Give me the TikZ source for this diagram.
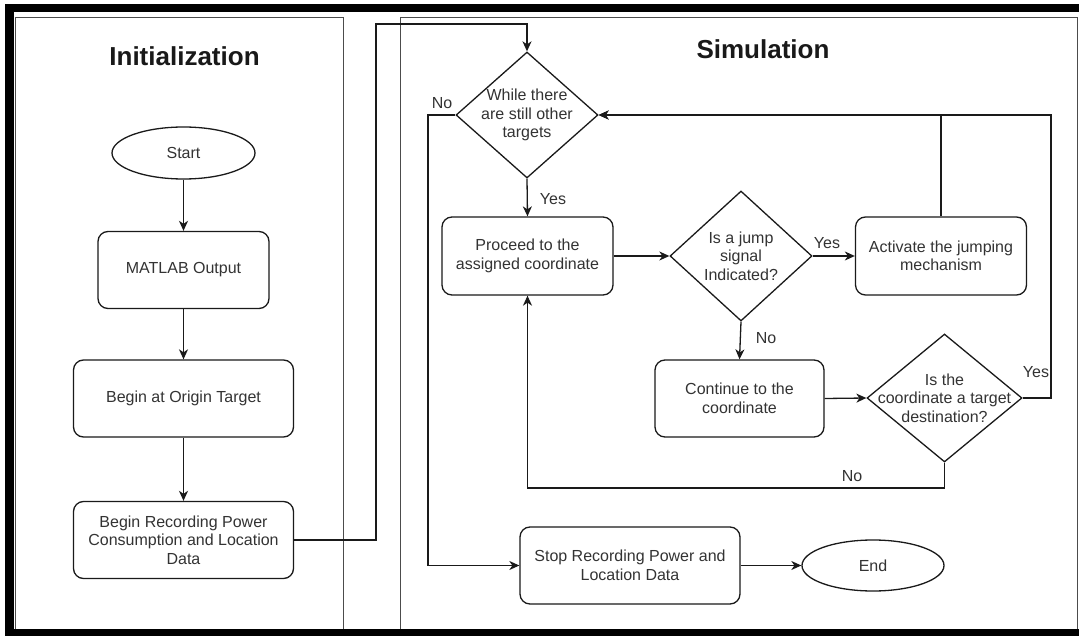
\documentclass[tikz,border=0pt]{standalone}
\usepackage{fontspec}
\setmainfont{Liberation Sans}
\usetikzlibrary{shapes.geometric,arrows.meta}
\definecolor{txt}{HTML}{333333}
\definecolor{ln}{HTML}{1A1A1A}
\begin{document}
\begin{tikzpicture}[x=1pt,y=-1pt,
  every node/.style={font=\fontsize{16}{18.5}\selectfont, text=txt},
  proc/.style={draw=ln, line width=1.3pt, rounded corners=10pt, align=center, inner sep=0pt},
  term/.style={draw=ln, line width=1.3pt, ellipse, inner sep=0pt},
  dec/.style={draw=ln, line width=1.3pt, diamond, inner sep=0pt},
  flow/.style={draw=ln, line width=1.3pt, -{Stealth[length=10pt,width=9pt,inset=3pt]}},
  lane/.style={draw=black!70, line width=0.9pt},
  lbl/.style={font=\fontsize{16}{18.5}\selectfont, text=txt, inner sep=0pt},
  ttl/.style={font=\fontsize{26}{30}\selectfont\bfseries, text=black!90}
]
\useasboundingbox (0,0) rectangle (1079,636);
\fill[white] (0,0) rectangle (1079,636);
% lanes
\draw[lane] (15,17.5) rectangle (343,629);
\draw[lane] (400,17.5) rectangle (1077.5,629);
\node[ttl] (tinit) at (184.5,56) {Initialization};
\node[ttl] (tsim) at (763,49.5) {Simulation};
% initialization column
\node[term, minimum width=143pt, minimum height=52pt] (start) at (183.5,153) {Start};
\node[proc, minimum width=171pt, minimum height=77pt] (matlab) at (183.5,270) {MATLAB Output};
\node[proc, minimum width=220pt, minimum height=77pt] (origin) at (183.5,398.5) {Begin at Origin Target};
\node[proc, minimum width=220pt, minimum height=77pt] (rec) at (183.5,540) {Begin Recording Power\\Consumption and Location\\Data};
% simulation
\node[dec, minimum width=142pt, minimum height=126pt,
  label={[lbl,align=center]center:{While there\\are still other\\targets}}] (d1) at (527,115) {};
\node[proc, minimum width=171pt, minimum height=78pt] (proc) at (527.5,256) {Proceed to the\\assigned coordinate};
\node[dec, minimum width=142pt, minimum height=130pt,
  label={[lbl,align=center]center:{Is a jump\\signal\\Indicated?}}] (d2) at (741,256) {};
\node[proc, minimum width=171pt, minimum height=78pt] (act) at (941,256) {Activate the jumping\\mechanism};
\node[proc, minimum width=169pt, minimum height=77pt] (cont) at (739.5,398.5) {Continue to the\\coordinate};
\node[dec, minimum width=155pt, minimum height=128pt,
  label={[lbl,align=center]center:{Is the\\coordinate a target\\destination?}}] (d3) at (944.5,398) {};
\node[proc, minimum width=220pt, minimum height=77pt] (stop) at (630,565.5) {Stop Recording Power and\\Location Data};
\node[term, minimum width=142pt, minimum height=51pt] (end) at (873,565.5) {End};
% helper coordinates
\coordinate (c1) at (376,24);
\coordinate (c2) at (428,565.5);
\coordinate (c3) at (1051,115);
\coordinate (c4) at (944.5,488);
% connectors
\draw[flow] (start) -- (matlab);
\draw[flow] (matlab) -- (origin);
\draw[flow] (origin) -- (rec);
\draw[flow] (rec.east) -| (c1) -| (d1.north);
\draw[flow] (d1.south) -- (proc.north);
\draw[flow] (d1.west) -| (c2) -- (stop.west);
\draw[flow] (proc.east) -- (d2.west);
\draw[flow] (d2.east) -- (act.west);
\draw[flow] (act.north) |- (d1.east);
\draw[flow] (d3.east) -| (c3) -- (d1.east);
\draw[flow] (d2.south) -- (cont.north);
\draw[flow] (cont.east) -- (d3.west);
\draw[flow] (d3.south) -- (c4) -| (proc.south);
\draw[flow] (stop.east) -- (end.west);
% edge labels
\node[lbl] (lno1) at (442,103) {No};
\node[lbl] (lyes1) at (553,199) {Yes};
\node[lbl] (lyes2) at (827,243) {Yes};
\node[lbl] (lno2) at (766,338) {No};
\node[lbl] (lyes3) at (1036,372) {Yes};
\node[lbl] (lno3) at (852,476) {No};
% outer frame
\fill[black] (5,4) rectangle (1079,12);
\fill[black] (5,4) rectangle (14,636);
\fill[black] (5,629) rectangle (1079,636);
\end{tikzpicture}
\end{document}
